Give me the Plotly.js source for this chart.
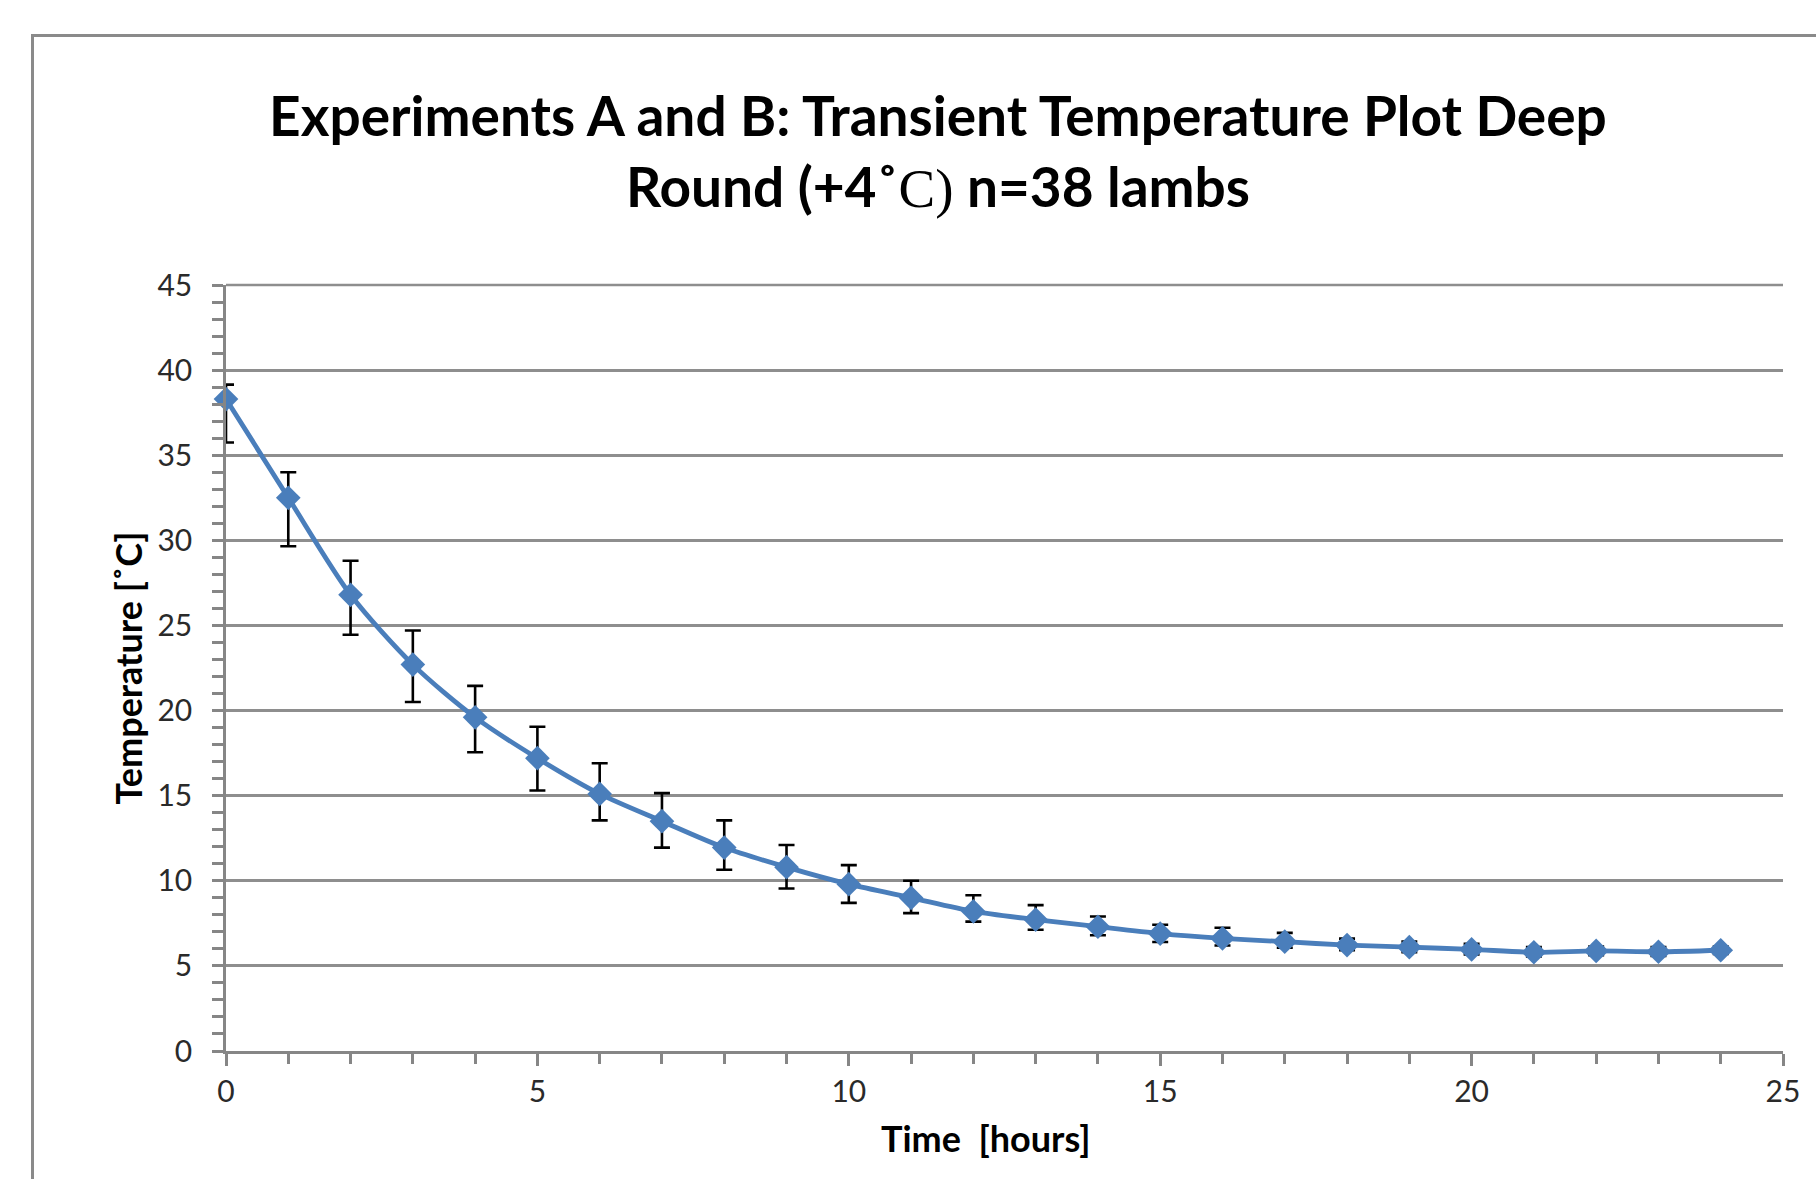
<!DOCTYPE html>
<html>
<head>
<meta charset="utf-8">
<script src="https://cdn.plot.ly/plotly-3.0.1.min.js"></script>
<style>
  html, body { margin: 0; padding: 0; background: #ffffff; }
  #wrap { position: relative; width: 1816px; height: 1179px; overflow: hidden; }
  #frame { position: absolute; left: 31px; top: 34px; width: 1900px; height: 1300px;
           border-left: 3px solid #8a8a8a; border-top: 3px solid #8a8a8a; box-sizing: border-box; }
  #chart { position: absolute; left: 0; top: 0; width: 1816px; height: 1179px; }
</style>
</head>
<body>
<div id="wrap">
  <div id="frame"></div>
  <div id="chart"></div>
</div>
<script>
// Time in hours
const timeHours = [0, 1, 2, 3, 4, 5, 6, 7, 8, 9, 10, 11, 12, 13, 14, 15, 16, 17, 18, 19, 20, 21, 22, 23, 24];
// Mean deep round temperature (°C)
const meanTemp = [38.3, 32.5, 26.8, 22.7, 19.6, 17.2, 15.1, 13.5, 11.95, 10.8, 9.8, 9.0, 8.2, 7.72, 7.3, 6.9, 6.62, 6.42, 6.22, 6.1, 5.97, 5.8, 5.88, 5.83, 5.92];
// Error bar extents above / below the mean
const errUp   = [0.85, 1.5, 2.0, 2.0, 1.85, 1.85, 1.8, 1.65, 1.6, 1.3, 1.12, 1.0, 0.95, 0.85, 0.6, 0.52, 0.62, 0.52, 0.38, 0.33, 0.33, 0.3, 0.25, 0.28, 0.22];
const errDown = [2.55, 2.85, 2.35, 2.2, 2.05, 1.9, 1.55, 1.55, 1.3, 1.25, 1.1, 0.9, 0.6, 0.6, 0.5, 0.5, 0.42, 0.35, 0.3, 0.3, 0.3, 0.25, 0.25, 0.25, 0.22];
// Axis ticks
const yTicks = [0, 5, 10, 15, 20, 25, 30, 35, 40, 45];
const xTicks = [0, 5, 10, 15, 20, 25];

const titleText = 'Experiments A and B: Transient Temperature Plot Deep<br>Round (+4˚<span style="font-family:\'Liberation Serif\',serif;font-weight:normal">C)</span> n=38 lambs';
const xTitleText = 'Time  [hours]';
const yTitleText = 'Temperature [˚C]';

const FONT = 'Lato, "Open Sans", sans-serif';
const GRID = '#8e8e8e';
const AXIS = '#868686';

const trace = {
  x: timeHours,
  y: meanTemp,
  type: 'scatter',
  mode: 'lines+markers',
  line: { color: '#4a7ebb', width: 4.8, shape: 'spline', smoothing: 0.8 },
  marker: { symbol: 'diamond', size: 19, color: '#4a7ebb' },
  error_y: {
    type: 'data', symmetric: false,
    array: errUp, arrayminus: errDown,
    color: '#000000', thickness: 2.6, width: 8
  },
  cliponaxis: false,
  showlegend: false,
  hoverinfo: 'x+y'
};

const layout = {
  width: 1816, height: 1179,
  paper_bgcolor: 'rgba(0,0,0,0)',
  plot_bgcolor: 'rgba(0,0,0,0)',
  margin: { l: 226, r: 33, t: 285, b: 128, pad: 0 },
  showlegend: false,
  font: { family: FONT, color: '#000' },
  title: {
    text: titleText,
    font: { family: FONT, size: 55, weight: 'bold', color: '#000' },
    xref: 'container', yref: 'container',
    x: 0.5165, xanchor: 'center',
    y: 0.8847, yanchor: 'top'
  },
  shapes: [{
    // top gridline at the end of the y range (45)
    type: 'line', xref: 'paper', yref: 'paper',
    x0: 0, x1: 1, y0: 1, y1: 1,
    line: { color: GRID, width: 2.5 }, layer: 'below'
  }],
  annotations: [{
    text: xTitleText, xref: 'paper', yref: 'paper',
    x: 0.4875, y: -0.114, xanchor: 'center', yanchor: 'middle',
    showarrow: false,
    font: { family: FONT, size: 36, weight: 'bold', color: '#000' }
  }],
  xaxis: {
    range: [0, 25],
    tickmode: 'array', tickvals: xTicks, ticktext: xTicks.map(String),
    ticks: 'outside', ticklen: 12, tickwidth: 2.5, tickcolor: AXIS,
    minor: { dtick: 1, ticks: 'outside', ticklen: 10, tickwidth: 2.5, tickcolor: AXIS, showgrid: false },
    showgrid: false, zeroline: false,
    showline: true, linecolor: AXIS, linewidth: 2.5,
    tickfont: { family: FONT, size: 30, color: '#2a2a2a' },
    ticklabelstandoff: 0,
    fixedrange: true
  },
  yaxis: {
    range: [0, 45],
    tickmode: 'array', tickvals: yTicks, ticktext: yTicks.map(String),
    ticks: 'outside', ticklen: 11, tickwidth: 2.5, tickcolor: AXIS,
    minor: { dtick: 1, ticks: 'outside', ticklen: 11, tickwidth: 2.5, tickcolor: AXIS, showgrid: false },
    showgrid: true, gridcolor: GRID, gridwidth: 2.5,
    zeroline: false,
    showline: true, linecolor: AXIS, linewidth: 2.5,
    tickfont: { family: FONT, size: 30, color: '#2a2a2a' },
    ticklabelstandoff: 14,
    title: { text: yTitleText, font: { family: FONT, size: 36, weight: 'bold', color: '#000' }, standoff: 4 },
    fixedrange: true
  }
};

Plotly.newPlot('chart', [trace], layout, { displayModeBar: false, responsive: false });
</script>
</body>
</html>
